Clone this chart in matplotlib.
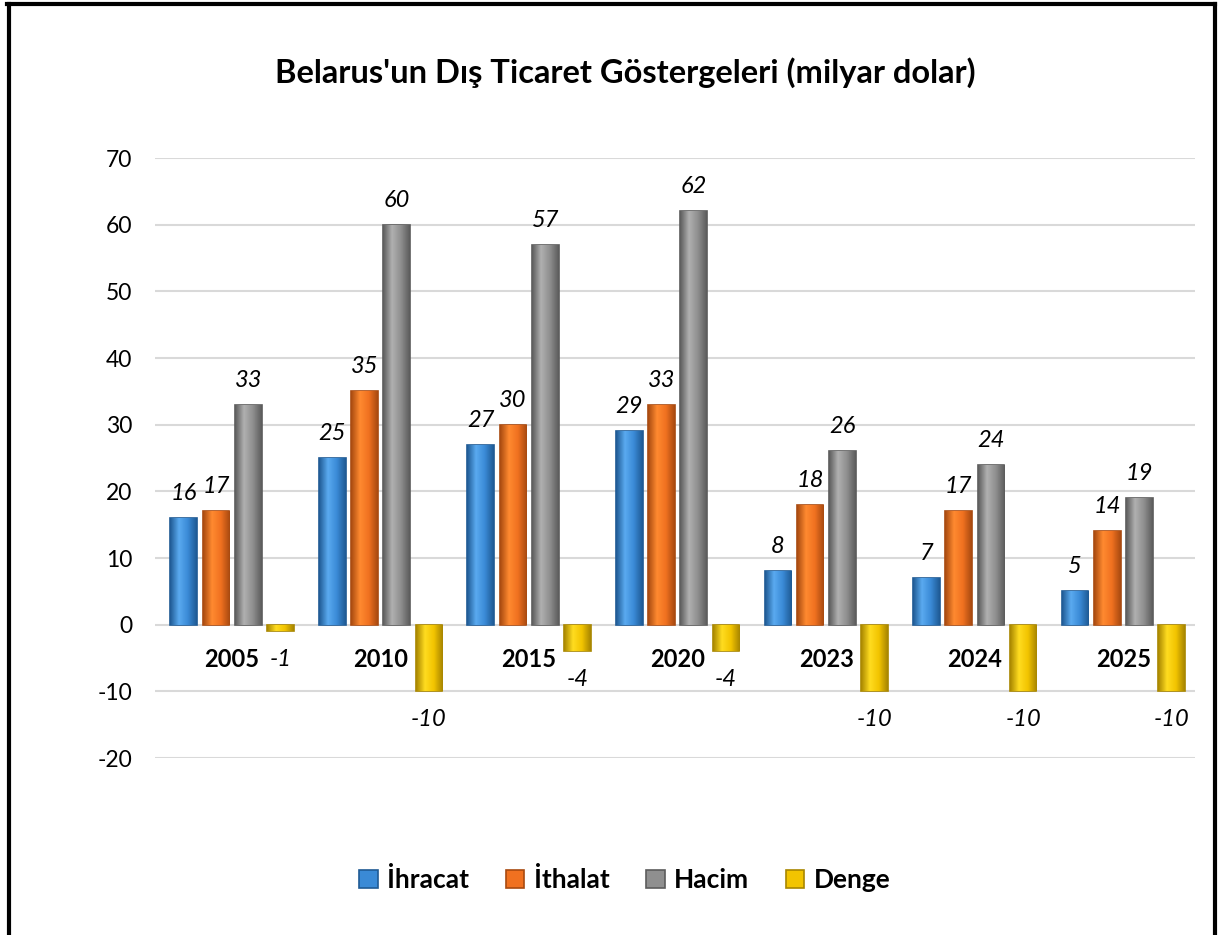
import matplotlib.pyplot as plt
import numpy as np
from matplotlib.lines import Line2D
from matplotlib.colors import LinearSegmentedColormap

years = ['2005', '2010', '2015', '2020', '2023', '2024', '2025']
ihracat = [16, 25, 27, 29, 8, 7, 5]
ithalat = [17, 35, 30, 33, 18, 17, 14]
hacim = [33, 60, 57, 62, 26, 24, 19]
denge = [-1, -10, -4, -4, -10, -10, -10]

series = [ihracat, ithalat, hacim, denge]
names = ['İhracat', 'İthalat', 'Hacim', 'Denge']
colors = ['#3a8ad6', '#f07120', '#8f8f8f', '#f2c400']
lights = ['#5aaaf0', '#ff8a30', '#b0b0b0', '#ffdc20']
edges = ['#1f5a94', '#a84a10', '#5c5c5c', '#a88600']

plt.rcParams['font.family'] = ['Lato', 'DejaVu Sans']
plt.rcParams['axes.unicode_minus'] = False

fig = plt.figure(figsize=(12.19, 9.35), dpi=100)
ax = fig.add_axes([0.127, 0.1893, 0.853, 0.6417])

x = np.arange(len(years))
step = 0.217
width = 0.18

for i, vals in enumerate(series):
    pos = x + 0.02 + (i - 1.5) * step
    bars = ax.bar(pos, vals, width, color=colors[i], edgecolor=edges[i], linewidth=1.2,
                  label=names[i], zorder=3)
    # soft shading across each bar
    cmap = LinearSegmentedColormap.from_list('s', [edges[i], lights[i], colors[i], edges[i]])
    grad = np.linspace(0, 1, 64).reshape(1, -1)
    for b in bars:
        x0, y0 = b.get_x(), min(0, b.get_height())
        im = ax.imshow(grad, cmap=cmap, aspect='auto', zorder=3.5,
                       extent=(x0, x0 + b.get_width(), y0, y0 + abs(b.get_height())))
        im.set_clip_path(b)
    for p, v in zip(pos, vals):
        if v >= 0:
            ax.annotate(str(v), (p, v), xytext=(0, 10), textcoords='offset points',
                        ha='center', va='bottom', fontsize=17, style='italic')
        else:
            ax.annotate(str(v), (p, v), xytext=(0, -13), textcoords='offset points',
                        ha='center', va='top', fontsize=17, style='italic')

# category labels sit just under the zero line
for xi, yr in zip(x, years):
    ax.text(xi + 0.02, -5.2, yr, ha='center', va='center', fontsize=17, fontweight='bold')

ax.set_xlim(-0.5, len(years) - 0.5)
ax.set_ylim(-20, 70)
ax.set_yticks(range(-20, 71, 10))
ax.set_xticks([])
ax.tick_params(axis='y', length=0, labelsize=16.5, pad=16)
ax.grid(axis='y', color='#d9d9d9', linewidth=1.5, zorder=0)
for s in ax.spines.values():
    s.set_visible(False)

fig.text(0.513, 0.922, "Belarus'un Dış Ticaret Göstergeleri (milyar dolar)",
         ha='center', va='center', fontsize=23.5, fontweight='bold')

ax.legend(loc='center', bbox_to_anchor=(0.452, -0.203), ncol=4, frameon=False,
          prop={'size': 19, 'weight': 'bold'}, handlelength=0.7, handleheight=0.7,
          handletextpad=0.35, columnspacing=1.4)

# frame around the picture (left, top, right only)
fig.add_artist(Line2D([0.007, 0.007], [0, 0.996], color='black', linewidth=3, transform=fig.transFigure))
fig.add_artist(Line2D([0.006, 0.997], [0.996, 0.996], color='black', linewidth=3, transform=fig.transFigure))
fig.add_artist(Line2D([0.997, 0.997], [0, 0.996], color='black', linewidth=3, transform=fig.transFigure))

fig.savefig('out.png', dpi=100)
